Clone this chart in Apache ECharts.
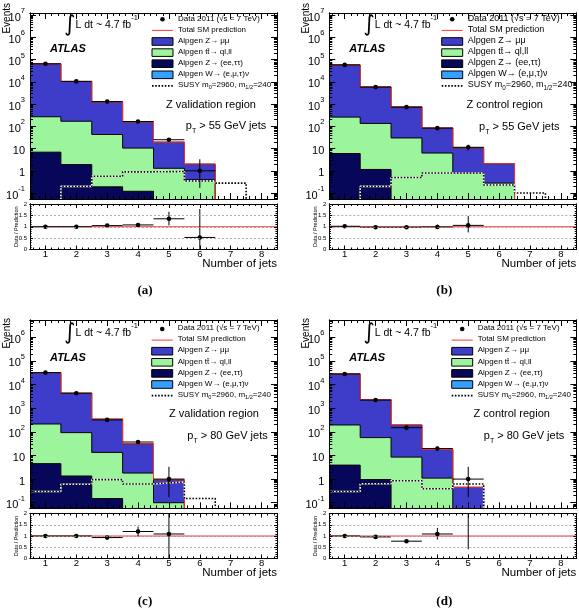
<!DOCTYPE html>
<html>
<head>
<meta charset="utf-8">
<script src="https://cdn.jsdelivr.net/npm/echarts@6/dist/echarts.min.js"></script>
<style>
html, body { margin: 0; padding: 0; background: #fff; }
#chart { width: 579px; height: 611px; }
</style>
</head>
<body>
<div id="chart"></div>
<script>
// number of jets (bin centres)
const nJets = [1, 2, 3, 4, 5, 6, 7, 8];

// (a) Z validation region, pT > 55 GeV
const zmmA = [63700, 10300, 1200, 145, 18.2, 1.6, 0, 0];
const ttA = [263, 168, 42.8, 10.4, 1.3, 0.4, 0, 0];
const zeeA = [6.9, 1.9, 0.19, 0.12, 0, 0, 0, 0];
const wnuA = [0, 0, 0, 0, 0, 0, 0, 0];
const susyA = [0, 0.2, 0.57, 0.9, 0.93, 0.35, 0.28, 0];
const dataA = [65000, 10500, 1300, 165, 25, 1];
const dataLoA = [64700, 10400, 1264, 152, 20, 0.17];
const dataHiA = [65300, 10600, 1336, 178, 30, 3.3];
const ratioA = [1.0, 1.0, 1.05, 1.08, 1.35, 0.53];
const ratioLoA = [0.99, 0.99, 1.02, 1.0, 1.06, 0];
const ratioHiA = [1.01, 1.01, 1.08, 1.16, 1.66, 1.78];

// (b) Z control region, pT > 55 GeV
const zmmB = [56740, 5765, 715, 77.7, 10, 1.8, 0, 0];
const ttB = [254, 134, 30, 6.3, 0.8, 0.28, 0, 0];
const zeeB = [6.0, 1.15, 0, 0, 0, 0, 0, 0];
const wnuB = [0, 0, 0, 0, 0, 0, 0, 0];
const susyB = [0, 0.2, 0.5, 0.8, 0.8, 0.23, 0.1, 0];
const dataB = [58000, 5800, 730, 83, 11.4];
const dataLoB = [57800, 5720, 703, 74, 8];
const dataHiB = [58200, 5880, 757, 92, 15];
const ratioB = [1.02, 0.98, 0.98, 0.99, 1.06];
const ratioLoB = [1.01, 0.97, 0.94, 0.9, 0.75];
const ratioHiB = [1.03, 0.99, 1.02, 1.1, 1.47];

// (c) Z validation region, pT > 80 GeV
const zmmC = [31785, 4208, 331, 29.2, 0.82, 0, 0, 0];
const ttC = [210, 91, 13.3, 1.8, 0.1, 0, 0, 0];
const zeeC = [4.5, 1.35, 0.15, 0, 0, 0, 0, 0];
const wnuC = [0, 0, 0, 0, 0, 0, 0, 0];
const susyC = [0.3, 0.6, 0.95, 0.62, 0.75, 0.15, 0, 0];
const dataC = [32000, 4300, 320, 37, 1];
const dataLoC = [31800, 4230, 302, 31, 0.17];
const dataHiC = [32200, 4370, 338, 43, 3.3];
const ratioC = [1.0, 1.0, 0.93, 1.2, 1.09];
const ratioLoC = [0.99, 0.98, 0.88, 0.98, 0];
const ratioHiC = [1.01, 1.02, 0.98, 1.42, 3.6];

// (d) Z control region, pT > 80 GeV
const zmmD = [27805, 2243, 186.5, 16.9, 0.45, 0, 0, 0];
const ttD = [191, 56, 8.5, 1.1, 0, 0, 0, 0];
const zeeD = [3.9, 0.95, 0, 0, 0, 0, 0, 0];
const wnuD = [0, 0, 0, 0, 0, 0, 0, 0];
const susyD = [0.3, 0.63, 0.85, 0.39, 0.62, 0, 0, 0];
const dataD = [28000, 2200, 150, 19.6, 1];
const dataLoD = [27800, 2150, 138, 15.2, 0.17];
const dataHiD = [28200, 2250, 162, 24, 3.3];
const ratioD = [1.0, 0.96, 0.77, 1.09, 2.2];
const ratioLoD = [0.99, 0.94, 0.71, 0.84, 0.41];
const ratioHiD = [1.01, 0.98, 0.83, 1.36, 7];

const FONT = "'Liberation Sans', Arial, Helvetica, sans-serif";
const RED = '#ff3535';
const C_ZMM = '#3d3dc9';
const C_TT = '#9cf59c';
const C_ZEE = '#07075a';
const C_W = '#35a0ff';
const FLOOR = 1e-4; // empty bins sit below the axis

const legendRows = [
  { kind: 'dot', text: '{t|Data 2011 (√s = 7 TeV)}' },
  { kind: 'line', text: '{t|Total SM prediction}' },
  { kind: 'box', color: C_ZMM, text: '{t|Alpgen Z→ μμ}' },
  { kind: 'box', color: C_TT, text: '{t|Alpgen tt̄→ ql,ll}' },
  { kind: 'box', color: C_ZEE, text: '{t|Alpgen Z→ (ee,ττ)}' },
  { kind: 'box', color: C_W, text: '{t|Alpgen W→ (e,μ,τ)ν}' },
  { kind: 'dash', text: '{t|SUSY m}{s|0}{t|=2960, m}{s|1/2}{t|=240}' }
];

const W = 247;
const panels = [
  { zmm: zmmA, tt: ttA, zee: zeeA, wnu: wnuA, susy: susyA,
    data: dataA, lo: dataLoA, hi: dataHiA, ratio: ratioA, rlo: ratioLoA, rhi: ratioHiA,
    region: 'Z validation region', cut: '55', caption: '(a)',
    L: 30, T: 13, H: 186, RT: 204, RH: 45.5, yMin: 0.054, yMax: 1.25e7,
    evTop: 3, lumiY: 12, atlasY: 36.3, legX: 122, legY: 6.3, legFont: 8,
    regX: 181, regY: 92.3, cutX: 196, cutY: 114.3, capY: 291 },
  { zmm: zmmB, tt: ttB, zee: zeeB, wnu: wnuB, susy: susyB,
    data: dataB, lo: dataLoB, hi: dataHiB, ratio: ratioB, rlo: ratioLoB, rhi: ratioHiB,
    region: 'Z control region', cut: '55', caption: '(b)',
    L: 329.3, T: 13, H: 186, RT: 204, RH: 45.5, yMin: 0.054, yMax: 1.25e7,
    evTop: 3, lumiY: 12, atlasY: 36.3, legX: 112.4, legY: 6.3, legFont: 9,
    regX: 175.4, regY: 92.3, cutX: 190, cutY: 115.3, capY: 291 },
  { zmm: zmmC, tt: ttC, zee: zeeC, wnu: wnuC, susy: susyC,
    data: dataC, lo: dataLoC, hi: dataHiC, ratio: ratioC, rlo: ratioLoC, rhi: ratioHiC,
    region: 'Z validation region', cut: '80', caption: '(c)',
    L: 30, T: 320, H: 188.3, RT: 513.5, RH: 45, yMin: 0.058, yMax: 5.4e6,
    evTop: 318, lumiY: 13, atlasY: 38.3, legX: 121.7, legY: 9, legFont: 8,
    regX: 184, regY: 94.3, cutX: 197.5, cutY: 117.7, capY: 601.5 },
  { zmm: zmmD, tt: ttD, zee: zeeD, wnu: wnuD, susy: susyD,
    data: dataD, lo: dataLoD, hi: dataHiD, ratio: ratioD, rlo: ratioLoD, rhi: ratioHiD,
    region: 'Z control region', cut: '80', caption: '(d)',
    L: 329.3, T: 320, H: 188.3, RT: 513.5, RH: 45, yMin: 0.058, yMax: 5.4e6,
    evTop: 318, lumiY: 13, atlasY: 38.3, legX: 122.4, legY: 9, legFont: 8,
    regX: 182.4, regY: 94.3, cutX: 194.7, cutY: 117.7, capY: 601.5 }
];

// tick positions
const xMajor = nJets.slice();
const xMinor = [];
for (let k = 3; k <= 42; k++) { if (k % 5 !== 0) xMinor.push(+(k * 0.2).toFixed(1)); }
const rMinor = [];
for (let k = 1; k < 20; k++) { if (k % 5 !== 0) rMinor.push(+(k * 0.1).toFixed(1)); }
function logTicks(min, max) {
  const major = [], minor = [];
  for (let d = -3; d <= 8; d++) {
    const base = Math.pow(10, d);
    if (base >= min && base <= max) major.push(base);
    for (let k = 2; k <= 9; k++) {
      const v = +(k * base).toPrecision(3);
      if (v >= min && v <= max) minor.push(v);
    }
  }
  return { major, minor };
}

function powLabel(v) {
  const n = Math.round(Math.log10(v));
  if (n === 0) return '{b|1}';
  if (n === 1) return '{b|10}';
  return '{b|10}{s|' + n + '}';
}

function stepData(vals) {
  const pts = nJets.map((n, i) => [n - 0.5, vals[i] > 0 ? vals[i] : FLOOR]);
  pts.push([nJets[nJets.length - 1] + 0.5, pts[pts.length - 1][1]]);
  return pts;
}

function renderPoint(params, api) {
  const x = api.value(0), y = api.value(1);
  const lo = api.value(2), hi = api.value(3);
  const c = api.coord([x, y]);
  const l = api.coord([x - 0.5, y]);
  const r = api.coord([x + 0.5, y]);
  const top = api.coord([x, hi]);
  const bot = api.coord([x, lo > 0 ? lo : FLOOR]);
  const s = { stroke: '#000', lineWidth: 1 };
  return {
    type: 'group',
    children: [
      { type: 'line', shape: { x1: l[0], y1: c[1], x2: r[0], y2: c[1] }, style: s },
      { type: 'line', shape: { x1: c[0], y1: top[1], x2: c[0], y2: bot[1] }, style: s },
      { type: 'circle', shape: { cx: c[0], cy: c[1], r: 2.3 }, style: { fill: '#000' } }
    ]
  };
}

const grids = [], xAxes = [], yAxes = [], series = [], graphics = [];

function addX(gi, pos, ticks, len, label) {
  xAxes.push({
    gridIndex: gi, type: 'value', min: 0.5, max: 8.5, position: pos, z: 10,
    axisLine: { show: true, onZero: false, lineStyle: { color: '#000', width: 1 } },
    axisTick: { show: true, inside: true, length: len, customValues: ticks, lineStyle: { color: '#000', width: 1 } },
    axisLabel: label ? { show: true, customValues: xMajor, margin: 0, fontSize: 9.5, color: '#000', fontFamily: FONT } : { show: false },
    splitLine: { show: false }
  });
  return xAxes.length - 1;
}

function addLogY(gi, pos, p, ticks, len, label) {
  yAxes.push({
    gridIndex: gi, type: 'log', logBase: 10, min: p.yMin, max: p.yMax, position: pos, z: 10,
    axisLine: { show: true, onZero: false, lineStyle: { color: '#000', width: 1 } },
    axisTick: { show: true, inside: true, length: len, customValues: ticks, lineStyle: { color: '#000', width: 1 } },
    axisLabel: label ? {
      show: true, customValues: ticks, margin: 5, formatter: powLabel,
      rich: {
        b: { fontSize: 11, fontFamily: FONT, color: '#000', lineHeight: 16, verticalAlign: 'bottom' },
        s: { fontSize: 7.5, fontFamily: FONT, color: '#000', lineHeight: 7, verticalAlign: 'top' }
      }
    } : { show: false },
    splitLine: { show: false }
  });
  return yAxes.length - 1;
}

function addRatioY(gi, pos, minorTicks, len, label) {
  const ax = {
    gridIndex: gi, type: 'value', min: 0, max: 2, position: pos, z: 10,
    axisLine: { show: true, onZero: false, lineStyle: { color: '#000', width: 1 } },
    axisTick: { show: true, inside: true, length: len, lineStyle: { color: '#000', width: 1 } },
    axisLabel: label ? { show: true, margin: 3, fontSize: 6, color: '#000', fontFamily: FONT } : { show: false },
    splitLine: { show: false }
  };
  if (minorTicks) {
    ax.axisTick.customValues = minorTicks;
  } else {
    ax.interval = 0.5;
    ax.splitLine = { show: label, lineStyle: { color: '#9a9a9a', type: [2, 2], width: 0.8 } };
  }
  yAxes.push(ax);
  return yAxes.length - 1;
}

function histSeries(vals, fill, xi, yi) {
  return {
    type: 'line', step: 'end', symbol: 'none', xAxisIndex: xi, yAxisIndex: yi,
    data: stepData(vals), lineStyle: { color: '#000', width: 1 },
    areaStyle: { color: fill, opacity: 1, origin: 'start' },
    z: 2, silent: true, animation: false
  };
}

panels.forEach(p => {
  const gMain = grids.length;
  grids.push({ left: p.L, top: p.T, width: W, height: p.H, containLabel: false });
  const gRatio = grids.length;
  grids.push({ left: p.L, top: p.RT, width: W, height: p.RH, containLabel: false });

  // main plot axes
  const lt = logTicks(p.yMin, p.yMax);
  const xm = addX(gMain, 'bottom', xMajor, 6, false);
  addX(gMain, 'bottom', xMinor, 3, false);
  addX(gMain, 'top', xMajor, 6, false);
  addX(gMain, 'top', xMinor, 3, false);
  const ym = addLogY(gMain, 'left', p, lt.major, 6, true);
  addLogY(gMain, 'left', p, lt.minor, 3, false);
  addLogY(gMain, 'right', p, lt.major, 6, false);
  addLogY(gMain, 'right', p, lt.minor, 3, false);

  // ratio axes
  const xr = addX(gRatio, 'bottom', xMajor, 4, true);
  addX(gRatio, 'bottom', xMinor, 2, false);
  addX(gRatio, 'top', xMajor, 4, false);
  addX(gRatio, 'top', xMinor, 2, false);
  const yr = addRatioY(gRatio, 'left', null, 3, true);
  addRatioY(gRatio, 'left', rMinor, 1.6, false);
  addRatioY(gRatio, 'right', null, 3, false);
  addRatioY(gRatio, 'right', rMinor, 1.6, false);

  // stacked histogram: W, Z->ee/tautau, ttbar, Z->mumu
  const wCum = p.wnu.slice();
  const zeeCum = wCum.map((v, i) => v + p.zee[i]);
  const ttCum = zeeCum.map((v, i) => v + p.tt[i]);
  const total = ttCum.map((v, i) => v + p.zmm[i]);

  series.push(histSeries(total, C_ZMM, xm, ym));
  series.push(histSeries(ttCum, C_TT, xm, ym));
  series.push(histSeries(zeeCum, C_ZEE, xm, ym));
  series.push(histSeries(wCum, C_W, xm, ym));
  series.push({
    type: 'line', step: 'end', symbol: 'none', xAxisIndex: xm, yAxisIndex: ym,
    data: stepData(total), lineStyle: { color: RED, width: 1 }, z: 3, silent: true, animation: false
  });
  series.push({
    type: 'line', step: 'end', symbol: 'none', xAxisIndex: xm, yAxisIndex: ym,
    data: stepData(p.susy), lineStyle: { color: '#fff', width: 1.6 }, z: 4, silent: true, animation: false
  });
  series.push({
    type: 'line', step: 'end', symbol: 'none', xAxisIndex: xm, yAxisIndex: ym,
    data: stepData(p.susy), lineStyle: { color: '#000', width: 1.6, type: [1.6, 1.6] }, z: 4, silent: true, animation: false
  });
  series.push({
    type: 'custom', xAxisIndex: xm, yAxisIndex: ym, clip: true, z: 5, silent: true, animation: false,
    data: p.data.map((v, i) => [nJets[i], v, p.lo[i], p.hi[i]]), renderItem: renderPoint
  });

  // ratio panel
  series.push({
    type: 'line', symbol: 'none', xAxisIndex: xr, yAxisIndex: yr,
    data: [[nJets[0] - 0.5, 1], [nJets[nJets.length - 1] + 0.5, 1]],
    lineStyle: { color: RED, width: 1 }, z: 3, silent: true, animation: false
  });
  series.push({
    type: 'custom', xAxisIndex: xr, yAxisIndex: yr, clip: true, z: 5, silent: true, animation: false,
    data: p.ratio.map((v, i) => [nJets[i], v, p.rlo[i], p.rhi[i]]), renderItem: renderPoint
  });

  // texts
  graphics.push({
    type: 'text', x: p.L - 28, y: p.evTop, rotation: Math.PI / 2,
    style: { text: 'Events', fontSize: 10, fontFamily: FONT, fill: '#000', align: 'right', verticalAlign: 'top' }
  });
  graphics.push({
    type: 'text', x: p.L - 17, y: p.RT + p.RH / 2, rotation: Math.PI / 2,
    style: { text: 'Data / Prediction', fontSize: 5.5, fontFamily: FONT, fill: '#000', align: 'center', verticalAlign: 'top' }
  });
  graphics.push({
    type: 'text', x: p.L + W, y: p.RT + p.RH + 14.5,
    style: { text: 'Number of jets', fontSize: 11.5, fontFamily: FONT, fill: '#000', align: 'right', verticalAlign: 'middle' }
  });
  graphics.push({
    type: 'text', x: p.L + 115, y: p.capY,
    style: { text: p.caption, fontSize: 13, fontWeight: 'bold', fontFamily: "'Liberation Serif', 'DejaVu Serif', serif", fill: '#000', align: 'center', verticalAlign: 'middle' }
  });
  graphics.push({
    type: 'text', x: p.L + 34, y: p.T + p.lumiY,
    style: {
      text: '{i|∫}{t|L dt ~ 4.7 fb}{s|-1}', align: 'left', verticalAlign: 'middle',
      rich: {
        i: { fontSize: 22, fontFamily: "'DejaVu Sans', sans-serif", fill: '#000', lineHeight: 22, verticalAlign: 'middle' },
        t: { fontSize: 10.5, fontFamily: FONT, fill: '#000', lineHeight: 11, verticalAlign: 'middle' },
        s: { fontSize: 7.5, fontFamily: FONT, fill: '#000', lineHeight: 12, verticalAlign: 'top' }
      }
    }
  });
  graphics.push({
    type: 'text', x: p.L + 20, y: p.T + p.atlasY,
    style: { text: 'ATLAS', fontSize: 11, fontWeight: 'bold', fontStyle: 'italic', fontFamily: FONT, fill: '#000', align: 'left', verticalAlign: 'middle' }
  });
  graphics.push({
    type: 'text', x: p.L + p.regX, y: p.T + p.regY,
    style: { text: p.region, fontSize: 11, fontFamily: FONT, fill: '#000', align: 'center', verticalAlign: 'middle' }
  });
  graphics.push({
    type: 'text', x: p.L + p.cutX, y: p.T + p.cutY,
    style: {
      text: '{t|p}{s|T}{t| > ' + p.cut + ' GeV jets}', align: 'center', verticalAlign: 'middle',
      rich: {
        t: { fontSize: 11, fontFamily: FONT, fill: '#000', lineHeight: 14, verticalAlign: 'top' },
        s: { fontSize: 7, fontFamily: FONT, fill: '#000', lineHeight: 8, verticalAlign: 'bottom' }
      }
    }
  });

  // legend
  legendRows.forEach((row, k) => {
    const bx = p.L + p.legX, cy = p.T + p.legY + k * 11.1;
    if (row.kind === 'box') {
      graphics.push({ type: 'rect', shape: { x: bx, y: cy - 3.8, width: 21, height: 7.6 }, style: { fill: row.color, stroke: '#000', lineWidth: 1 } });
    } else if (row.kind === 'dot') {
      graphics.push({ type: 'circle', shape: { cx: bx + 10.5, cy: cy, r: 2.3 }, style: { fill: '#000' } });
    } else if (row.kind === 'line') {
      graphics.push({ type: 'line', shape: { x1: bx, y1: cy, x2: bx + 21, y2: cy }, style: { stroke: RED, lineWidth: 1 } });
    } else {
      graphics.push({ type: 'line', shape: { x1: bx, y1: cy, x2: bx + 21, y2: cy }, style: { stroke: '#000', lineWidth: 1.6, lineDash: [1.6, 1.6] } });
    }
    const f = p.legFont;
    graphics.push({
      type: 'text', x: bx + 26, y: cy,
      style: {
        text: row.text, align: 'left', verticalAlign: 'middle',
        rich: {
          t: { fontSize: f, fontFamily: FONT, fill: '#000', lineHeight: f + 2, verticalAlign: 'top' },
          s: { fontSize: f * 0.7, fontFamily: FONT, fill: '#000', lineHeight: f * 0.7, verticalAlign: 'bottom' }
        }
      }
    });
  });
});

const chart = echarts.init(document.getElementById('chart'));
chart.setOption({
  animation: false,
  backgroundColor: '#fff',
  textStyle: { fontFamily: FONT },
  grid: grids,
  xAxis: xAxes,
  yAxis: yAxes,
  series: series,
  graphic: { elements: graphics }
});
</script>
</body>
</html>
